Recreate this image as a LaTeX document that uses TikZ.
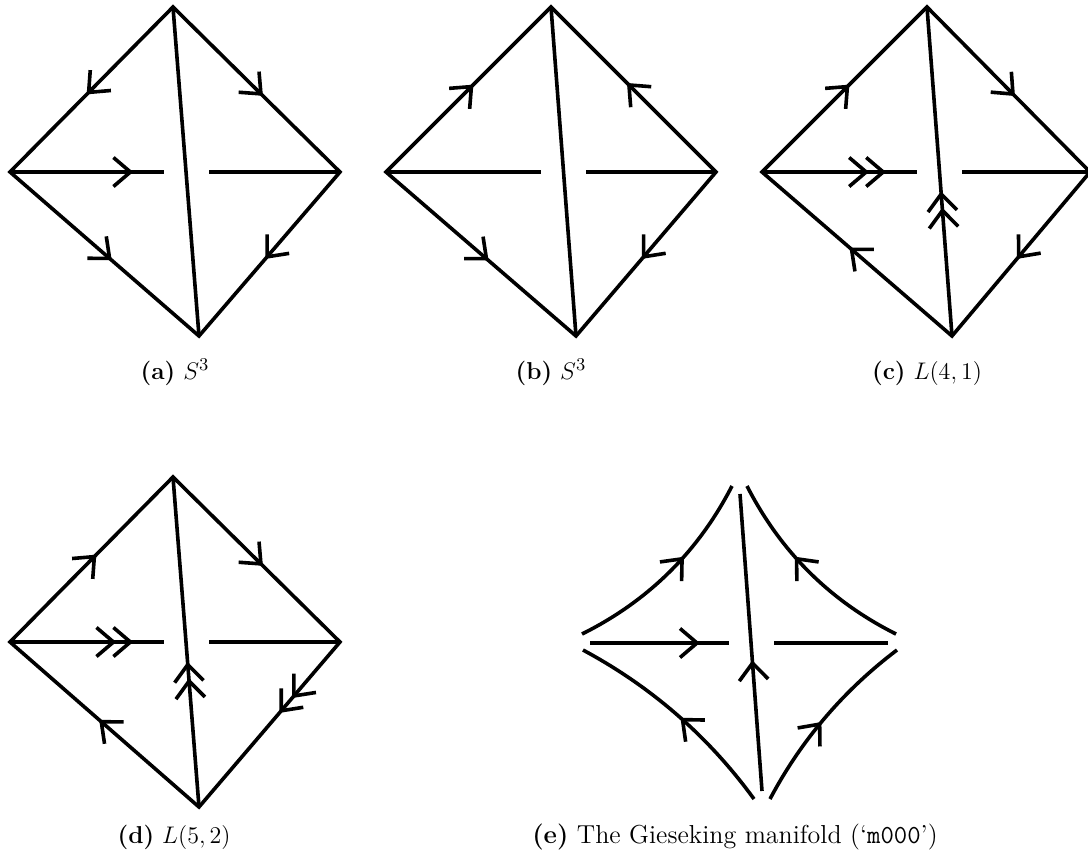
\documentclass[tikz,border=0pt]{standalone}
\usetikzlibrary{arrows.meta,decorations.markings}
\begin{document}
\begin{tikzpicture}[x=0.5pt,y=-0.5pt,
  edge/.style={line width=1.8pt, line join=miter},
  sb/.tip={Straight Barb[length=8.5pt,width=14.5pt]},
  arr/.style={line width=1.8pt, postaction={decorate},
    decoration={markings, mark=at position #1 with {\arrow{sb}}}},
  arrtwo/.style 2 args={line width=1.8pt, postaction={decorate},
    decoration={markings, mark=at position #1 with {\arrow{sb}}, mark=at position #2 with {\arrow{sb}}}},
  lab/.style={anchor=base, font=\fontsize{12.2}{14}\selectfont, inner sep=0pt},
  labe/.style={anchor=base, font=\fontsize{13}{15}\selectfont, inner sep=0pt}]
\useasboundingbox (0,0) rectangle (1088,858);

% (a)
\coordinate (aT) at (173,7);  \coordinate (aL) at (10,172);
\coordinate (aR) at (340,172); \coordinate (aB) at (199,336);
\coordinate (aG1) at (164,172); \coordinate (aG2) at (209,172);
\draw[edge] (aL) -- (aT) -- (aR) -- (aB) -- cycle;
\draw[edge] (aT) -- (aB);
\draw[edge] (aL) -- (aG1);
\draw[edge] (aG2) -- (aR);
\path[arr=0.53] (aT) -- (aL);
\path[arr=0.54] (aT) -- (aR);
\path[arr=0.54] (aL) -- (aB);
\path[arr=0.53] (aR) -- (aB);
\path[arr=0.8] (aL) -- (aG1);
\node[lab] (la) at (175,379) {\textbf{(a)} $S^3$};

% (b)
\coordinate (bT) at (551,7);  \coordinate (bL) at (386,172);
\coordinate (bR) at (716,172); \coordinate (bB) at (576,336);
\coordinate (bG1) at (541,172); \coordinate (bG2) at (586,172);
\draw[edge] (bL) -- (bT) -- (bR) -- (bB) -- cycle;
\draw[edge] (bT) -- (bB);
\draw[edge] (bL) -- (bG1);
\draw[edge] (bG2) -- (bR);
\path[arr=0.53] (bL) -- (bT);
\path[arr=0.54] (bR) -- (bT);
\path[arr=0.54] (bL) -- (bB);
\path[arr=0.53] (bR) -- (bB);
\node[lab] (lb) at (551,379) {\textbf{(b)} $S^3$};

% (c)
\coordinate (cT) at (927,7);  \coordinate (cL) at (762,172);
\coordinate (cR) at (1090,172); \coordinate (cB) at (952,336);
\coordinate (cG1) at (917,172); \coordinate (cG2) at (962,172);
\draw[edge] (cL) -- (cT) -- (cR) -- (cB) -- cycle;
\draw[edge] (cT) -- (cB);
\draw[edge] (cL) -- (cG1);
\draw[edge] (cG2) -- (cR);
\path[arr=0.53] (cL) -- (cT);
\path[arr=0.54] (cT) -- (cR);
\path[arr=0.54] (cB) -- (cL);
\path[arr=0.53] (cR) -- (cB);
\path[arrtwo={0.8}{0.69}] (cL) -- (cG1);
\path[arrtwo={0.44}{0.39}] (cB) -- (cT);
\node[lab] (lc) at (927,379) {\textbf{(c)} $L(4,1)$};

% (d)
\coordinate (dT) at (173,477);  \coordinate (dL) at (10,642);
\coordinate (dR) at (340,642); \coordinate (dB) at (199,807);
\coordinate (dG1) at (164,642); \coordinate (dG2) at (209,642);
\draw[edge] (dL) -- (dT) -- (dR) -- (dB) -- cycle;
\draw[edge] (dT) -- (dB);
\draw[edge] (dL) -- (dG1);
\draw[edge] (dG2) -- (dR);
\path[arr=0.53] (dL) -- (dT);
\path[arr=0.54] (dT) -- (dR);
\path[arr=0.53] (dB) -- (dL);
\path[arrtwo={0.43}{0.34}] (dR) -- (dB);
\path[arrtwo={0.8}{0.69}] (dL) -- (dG1);
\path[arrtwo={0.44}{0.39}] (dB) -- (dT);
\node[lab] (ld) at (174,843) {\textbf{(d)} $L(5,2)$};

% (e)
\coordinate (eA1) at (582,634); \coordinate (eB1) at (732,486);
\coordinate (eA2) at (896,634); \coordinate (eB2) at (747,486);
\coordinate (eA3) at (754,799); \coordinate (eB3) at (583,650);
\coordinate (eA4) at (770,799); \coordinate (eB4) at (897,650);
\coordinate (eVb) at (762,791); \coordinate (eVt) at (740,494);
\coordinate (eH1) at (590,643); \coordinate (eH2) at (729,643);
\coordinate (eH3) at (774,643); \coordinate (eH4) at (888,643);
\draw[edge] (eA1) .. controls (648.2,601.1) and (698.2,551.7) .. (eB1);
\draw[edge] (eA2) .. controls (830.1,601) and (780.5,551.6) .. (eB2);
\draw[edge] (eA3) .. controls (708.4,736.3) and (651.4,686.7) .. (eB3);
\draw[edge] (eA4) .. controls (801.3,739.9) and (843.7,690.3) .. (eB4);
\draw[edge] (eVb) -- (eVt);
\draw[edge] (eH1) -- (eH2);
\draw[edge] (eH3) -- (eH4);
\path[arr=0.6] (eA1) .. controls (648.2,601.1) and (698.2,551.7) .. (eB1);
\path[arr=0.6] (eA2) .. controls (830.1,601) and (780.5,551.6) .. (eB2);
\path[arr=0.48] (eA3) .. controls (708.4,736.3) and (651.4,686.7) .. (eB3);
\path[arr=0.47] (eA4) .. controls (801.3,739.9) and (843.7,690.3) .. (eB4);
\path[arr=0.44] (eVb) -- (eVt);
\path[arr=0.79] (eH1) -- (eH2);
\node[labe] (le) at (735,843) {\textbf{(e)} The Gieseking manifold (`\texttt{m000}')};
\end{tikzpicture}
\end{document}
